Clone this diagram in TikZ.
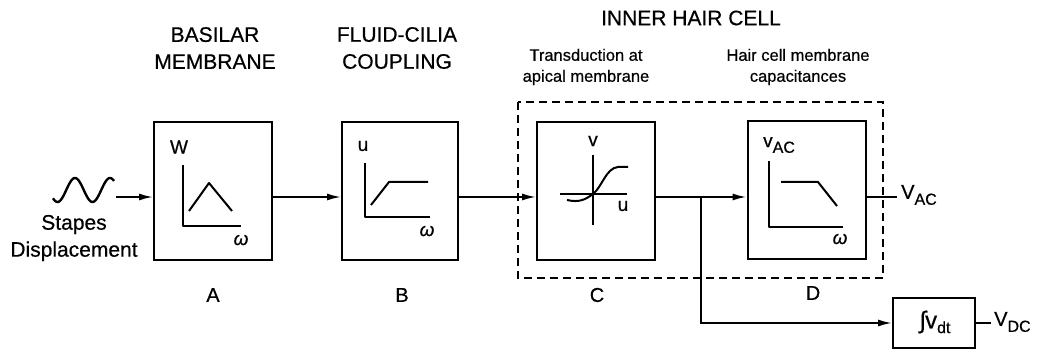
\documentclass[tikz,border=0pt]{standalone}
\usepackage{fontspec}
\setmainfont{Liberation Sans}[UprightFeatures={FakeBold=0.5},ItalicFeatures={FakeBold=0.5}]
\usetikzlibrary{arrows.meta}
\tikzset{
  blk/.style={draw, line width=2pt, inner sep=0pt, minimum width=118pt, minimum height=138pt},
  ln/.style={line width=1.8pt},
  arr/.style={ln, -{Latex[length=14pt,width=7pt]}},
  crv/.style={line width=2pt, line join=round},
  big/.style={font=\fontsize{21}{27}\selectfont, align=center, inner sep=0pt},
  small/.style={font=\fontsize{16.5}{21}\selectfont, align=center, inner sep=0pt},
  lbl/.style={font=\fontsize{20}{24}\selectfont, inner sep=0pt},
  axl/.style={font=\fontsize{19}{22}\selectfont, inner sep=0pt},
  dbox/.style={line width=1.6pt, dash pattern=on 8pt off 5pt},
}
\newcommand{\subtx}[1]{\raisebox{-0.3em}{\fontsize{16}{16}\selectfont #1}}
\begin{document}
\begin{tikzpicture}[x=1pt,y=-1pt]
\useasboundingbox (0,0) rectangle (1041,358);
% titles
\node[big] (tA) at (215,48) {BASILAR\\MEMBRANE};
\node[big] (tB) at (397,48) {FLUID-CILIA\\COUPLING};
\node[big] (tI) at (691,18) {INNER HAIR CELL};
\node[small] (tC) at (586,67) {Transduction at\\apical membrane};
\node[small] (tD) at (798,67) {Hair cell membrane\\capacitances};
% dashed inner hair cell box
\draw[dbox] (518,102) rectangle (883,278);
% blocks
\node[blk] (A) at (213,191) {};
\node[blk, minimum width=116pt] (B) at (400,191) {};
\node[blk] (C) at (596,191) {};
\node[blk] (D) at (806.5,190) {};
\node[blk, minimum width=82pt, minimum height=50pt] (I) at (934,323) {};
% block letters
\node[lbl] (lA) at (213,295) {A};
\node[lbl] (lB) at (402,295) {B};
\node[lbl] (lC) at (597,295) {C};
\node[lbl] (lD) at (813,293) {D};
% input wave
\draw[crv, line width=2.4pt] plot[domain=53:114, samples=70, smooth] (\x, {190-12*cos(360*(\x-75)/35)});
\node[big] (stp) at (74,238) {Stapes\\Displacement};
\coordinate (w) at (116,197);
\draw[arr] (w) -- ([yshift=-6pt]A.west);
% connections
\draw[arr] ([yshift=-6pt]A.east) -- ([yshift=-6pt]B.west);
\draw[arr] ([yshift=-6pt]B.east) -- ([yshift=-6pt]C.west);
\coordinate (j) at (701,197);
\draw[arr] ([yshift=-6pt]C.east) -- (j) -- ([yshift=-7pt]D.west);
\coordinate (jb) at (701,323);
\draw[arr] (j) -- (jb) -- (I.west);
\coordinate (vac) at (897,197);
\draw[ln] ([yshift=-7pt]D.east) -- (vac);
\node[lbl, anchor=west] (tVAC) at (901,195) {V\subtx{AC}};
\coordinate (vdc) at (991,323);
\draw[ln] (I.east) -- (vdc);
\node[lbl, anchor=west] (tVDC) at (994,322) {V\subtx{DC}};
\node[font=\fontsize{24}{26}\selectfont, inner sep=0pt] (int) at (935,322) {∫\kern-1pt v\raisebox{-0.2em}{\fontsize{16}{16}\selectfont dt}};
% graph A
\draw[crv] (183,165) -- (183,226) -- (241,226);
\draw[crv] (189,211) -- (209,183) -- (232,211);
\node[axl] (aW) at (179,147) {W};
\node[axl] (aw) at (241,240) {\itshape ω};
% graph B
\draw[crv] (365,163) -- (365,217) -- (430,217);
\draw[crv] (371,205) -- (389,182) -- (428,182);
\node[axl] (bu) at (363,146) {u};
\node[axl] (bw) at (427,231) {\itshape ω};
% graph C
\draw[crv] (593,155) -- (593,225);
\draw[crv] (560,194) -- (627,194);
\draw[crv] (567,200) .. controls (580,203) and (586,199) .. (593,194) .. controls (602,187) and (606,168) .. (618,167) -- (628,167);
\node[axl] (cv) at (593,141) {v};
\node[axl] (cu) at (623,206) {u};
% graph D
\draw[crv] (769,161) -- (769,227) -- (843,227);
\draw[crv] (781,182) -- (818,182) -- (837,206);
\node[axl, anchor=west] (dv) at (763,145) {v\subtx{AC}};
\node[axl] (dw) at (840,239) {\itshape ω};
\end{tikzpicture}
\end{document}
